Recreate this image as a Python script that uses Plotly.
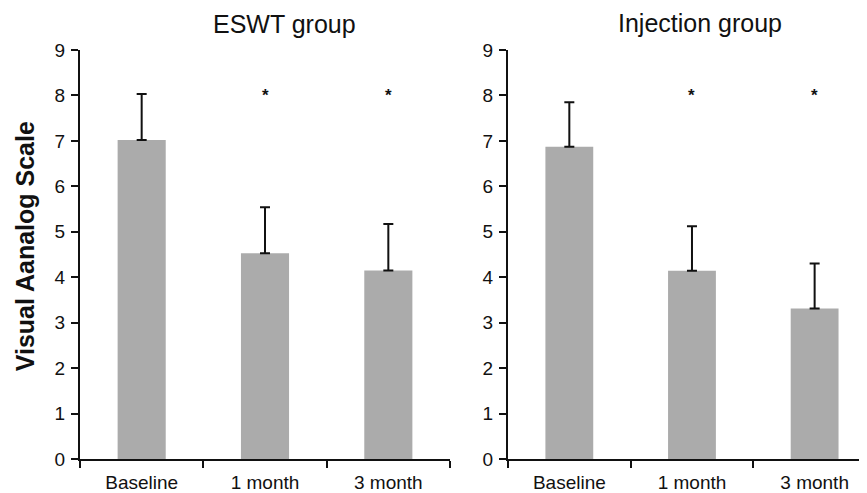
import plotly.graph_objects as go

categories = ["Baseline", "1 month", "3 month"]
eswt_mean = [7.02, 4.53, 4.15]
eswt_sd = [1.01, 1.01, 1.02]
inj_mean = [6.87, 4.14, 3.31]
inj_sd = [0.98, 0.98, 0.99]
sig_cats = ["1 month", "3 month"]
sig_y = [8.0, 8.0]
yticks = [0, 1, 2, 3, 4, 5, 6, 7, 8, 9]

# page body has an 8px margin; work in figure pixels (reference pixels - 8)
OFF = 8
W, H = 867 - OFF, 493 - OFF
top, bottom = 49.5 - OFF, 459 - OFF
FONT = "Liberation Sans, Arial"
INK = "#111111"

def px(x):
    return (x - OFF) / W

def py(y):
    return (bottom - (y - OFF)) / (bottom - top)

fig = go.Figure()
bar_color = "#ababab"
for mean, sd, xa, ya in [(eswt_mean, eswt_sd, "x", "y"), (inj_mean, inj_sd, "x2", "y2")]:
    fig.add_trace(go.Bar(
        x=categories, y=mean, xaxis=xa, yaxis=ya,
        marker=dict(color=bar_color, line=dict(width=0)),
        error_y=dict(type="data", array=sd, symmetric=False, arrayminus=[0] * len(sd),
                     color=INK, thickness=2, width=5, visible=True),
        showlegend=False, hoverinfo="skip",
    ))

axis_common = dict(showline=True, linecolor=INK, linewidth=2, showgrid=False,
                   zeroline=False, ticks="outside", tickcolor=INK, tickwidth=2, ticklen=7)
xfont = dict(family=FONT, size=19, color=INK)
yfont = dict(family=FONT, size=19, color=INK)

fig.update_layout(
    width=W, height=H,
    margin=dict(l=0, r=0, t=top, b=H - bottom, pad=0),
    paper_bgcolor="white", plot_bgcolor="white",
    bargap=0.61,
    xaxis=dict(domain=[px(80), px(450)], anchor="y", type="category",
               categoryorder="array", categoryarray=categories,
               range=[-0.5, 2.5], tickson="boundaries", tickfont=xfont,
               ticklabelstandoff=5, **axis_common),
    xaxis2=dict(domain=[px(508), 1.0], anchor="y2", type="category",
                categoryorder="array", categoryarray=categories,
                range=[-0.5, 2.427], tickson="boundaries", tickfont=xfont,
                ticklabelstandoff=5, **axis_common),
    yaxis=dict(domain=[0, 1], anchor="x", range=[0, 9], tickvals=yticks,
               tickfont=yfont, ticklabelstandoff=2, **axis_common),
    yaxis2=dict(domain=[0, 1], anchor="x2", range=[0, 9], tickvals=yticks,
                tickfont=yfont, ticklabelstandoff=2, **axis_common),
)

ann = []
for xa, ya in [("x", "y"), ("x2", "y2")]:
    for c, yv in zip(sig_cats, sig_y):
        ann.append(dict(x=c, y=yv, xref=xa, yref=ya, text="<b>*</b>", showarrow=False,
                        xanchor="center", yanchor="middle",
                        font=dict(family=FONT, size=17, color=INK)))

ann.append(dict(x=px(284), y=py(23), xref="paper", yref="paper", text="ESWT group",
                xanchor="center", yanchor="middle",
                showarrow=False, font=dict(family=FONT, size=25, color=INK)))
ann.append(dict(x=px(700), y=py(22), xref="paper", yref="paper", text="Injection group",
                xanchor="center", yanchor="middle",
                showarrow=False, font=dict(family=FONT, size=25, color=INK)))
ann.append(dict(x=px(25), y=py(246), xref="paper", yref="paper", text="<b>Visual Aanalog Scale</b>",
                xanchor="center", yanchor="middle",
                textangle=-90, showarrow=False,
                font=dict(family=FONT, size=25, color=INK)))
fig.update_layout(annotations=ann)

fig.write_html("out.html")
